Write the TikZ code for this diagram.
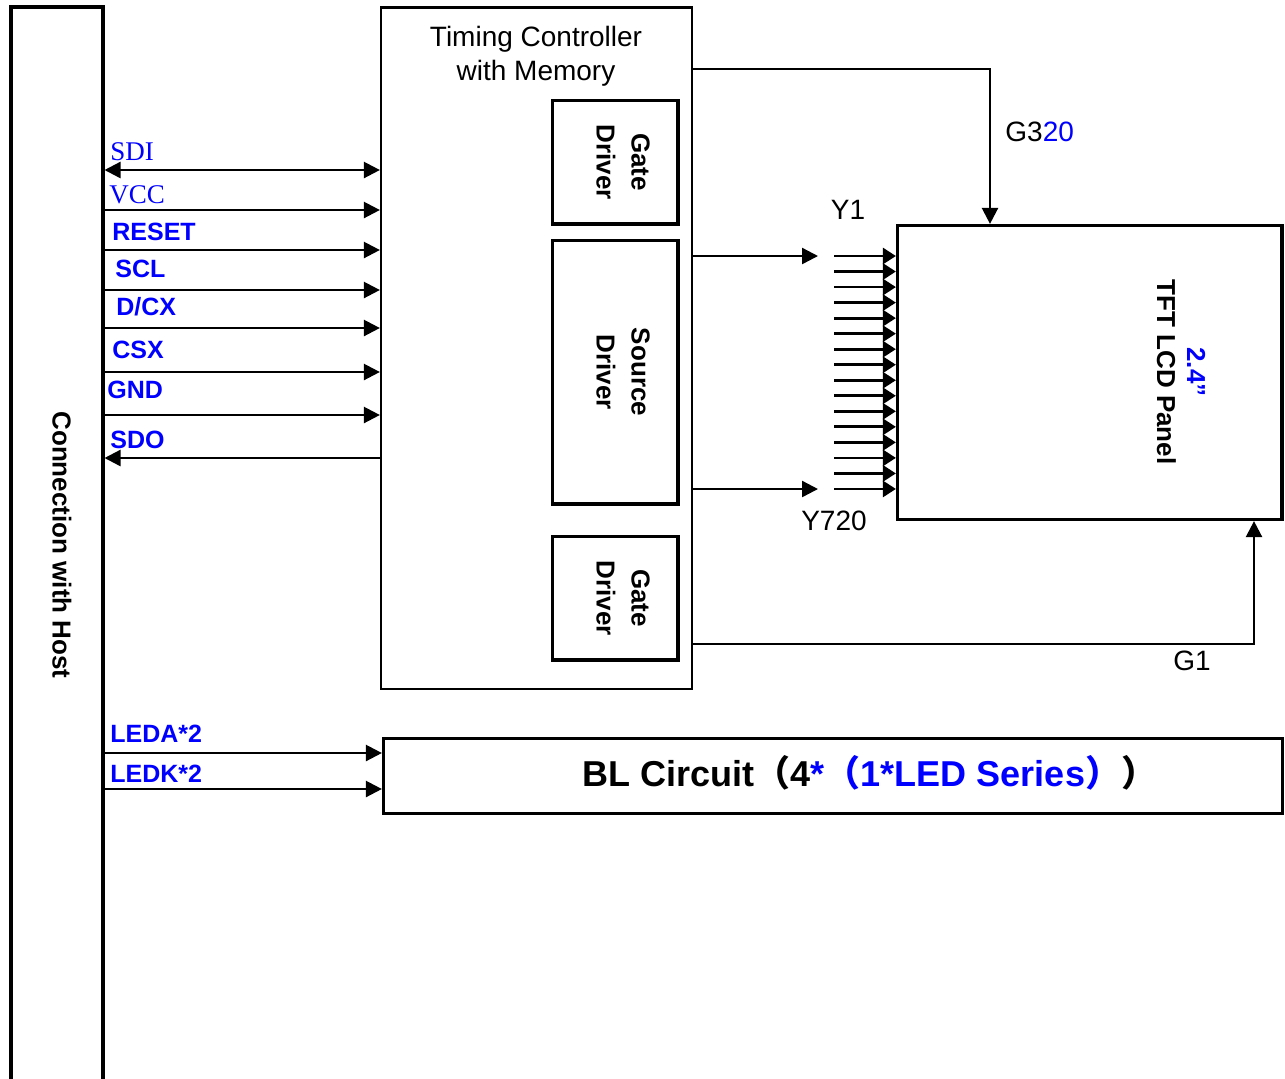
\documentclass[tikz,border=0pt]{standalone}
\usepackage{fontspec}
\setmainfont{Liberation Sans}
\newfontfamily\serifsig{Liberation Serif}
\newfontfamily\cjk{Noto Sans CJK SC}
\usetikzlibrary{arrows.meta,fit}

\begin{document}
\begin{tikzpicture}[x=0.5pt,y=-0.5pt,
    box/.style={draw,line width=1.6pt,inner sep=0pt},
    tip/.tip={Triangle[length=8pt,width=8pt]},
    sig/.style={line width=1.2pt,-tip},
    pin/.style={anchor=base west,inner sep=0pt,text=blue,font=\bfseries\fontsize{12.5}{15}\selectfont},
    serifpin/.style={pin,font=\serifsig\fontsize{13.5}{15}\selectfont},
    rot/.style={rotate=-90,align=center,inner sep=0pt,font=\bfseries\fontsize{13}{17.5}\selectfont},
    plain/.style={inner sep=0pt,font=\fontsize{14}{17}\selectfont}]
  \useasboundingbox (0,0) rectangle (1285,1078);
  % host side, open at the bottom
  \node[box,line width=2pt,fit={(10.5,6.5) (102.5,1110)}] (host) {};
  \node[rot] (hosttxt) at (62,545) {Connection with Host};
  % timing controller and its drivers
  \node[box,line width=1.1pt,fit={(381,7.5) (692,689)}] (tcon) {};
  \node[plain,align=center] (tcontxt) at (536,56) {Timing Controller\\with Memory};
  \node[box,fit={(552.5,100.5) (678,224)}] (gate1) {};
  \node[box,fit={(552.5,240.5) (678,504)}] (src) {};
  \node[box,fit={(552.5,536.5) (678,660)}] (gate2) {};
  \node[rot] (gate1txt) at (623,162) {Gate\\Driver};
  \node[rot] (srctxt) at (623,372) {Source\\Driver};
  \node[rot] (gate2txt) at (623,598) {Gate\\Driver};
  % panel and backlight
  \node[box,fit={(897.5,225.5) (1282,519.5)}] (panel) {};
  \node[rot,font=\bfseries\fontsize{13}{15}\selectfont] (paneltxt) at (1181,372)
    {\textcolor{blue}{2.4”}\\TFT LCD Panel};
  \node[box,fit={(383.5,738.5) (1282.5,813.5)}] (bl) {};
  \node[inner sep=0pt,font=\bfseries\fontsize{18}{22}\selectfont] (bltxt) at (870,773)
    {BL Circuit{\cjk（}4\textcolor{blue}{*{\cjk（}1*LED Series{\cjk）}}{\cjk）}};
  % host interface
  \draw[sig,tip-tip] (host.east |- 0,170) -- (tcon.west |- 0,170);
  \foreach \y in {210,250,290,328,372,415}
    \draw[sig] (host.east |- 0,\y) -- (tcon.west |- 0,\y);
  \draw[sig] (tcon.west |- 0,458) -- (host.east |- 0,458);
  \foreach \y in {753,789}
    \draw[sig] (host.east |- 0,\y) -- (bl.west |- 0,\y);
  \node[serifpin] (sdi) at (110,160) {SDI};
  \node[serifpin] (vcc) at (109,203) {VCC};
  \node[pin] (reset) at (112,240) {RESET};
  \node[pin] (scl) at (115,277) {SCL};
  \node[pin] (dcx) at (116,315) {D/CX};
  \node[pin] (csx) at (112,358) {CSX};
  \node[pin] (gnd) at (107,398) {GND};
  \node[pin] (sdo) at (110,448) {SDO};
  \node[pin] (leda) at (110,742) {LEDA*2};
  \node[pin] (ledk) at (110,782) {LEDK*2};
  % gate lines
  \coordinate (gtop) at (990,69);
  \coordinate (gbot) at (1254,644);
  \draw[sig] (tcon.east |- gtop) -| (gtop |- panel.north);
  \draw[sig] (tcon.east |- gbot) -| (gbot |- panel.south);
  \node[plain,anchor=west] (g320) at (1005,132) {G3\textcolor{blue}{20}};
  \node[plain] (g1) at (1192,661) {G1};
  % source lines
  \coordinate (ytop) at (818,256);
  \coordinate (ybot) at (818,489);
  \draw[sig] (tcon.east |- ytop) -- (ytop);
  \draw[sig] (tcon.east |- ybot) -- (ybot);
  \foreach \i in {0,...,15}
    \draw[line width=1.4pt,-{Triangle[length=6.5pt,width=8pt]}]
      (834,256+\i*15.53) -- (panel.west |- 0,256+\i*15.53);
  \node[plain] (y1) at (848,210) {Y1};
  \node[plain] (y720) at (834,521) {Y720};
\end{tikzpicture}
\end{document}
